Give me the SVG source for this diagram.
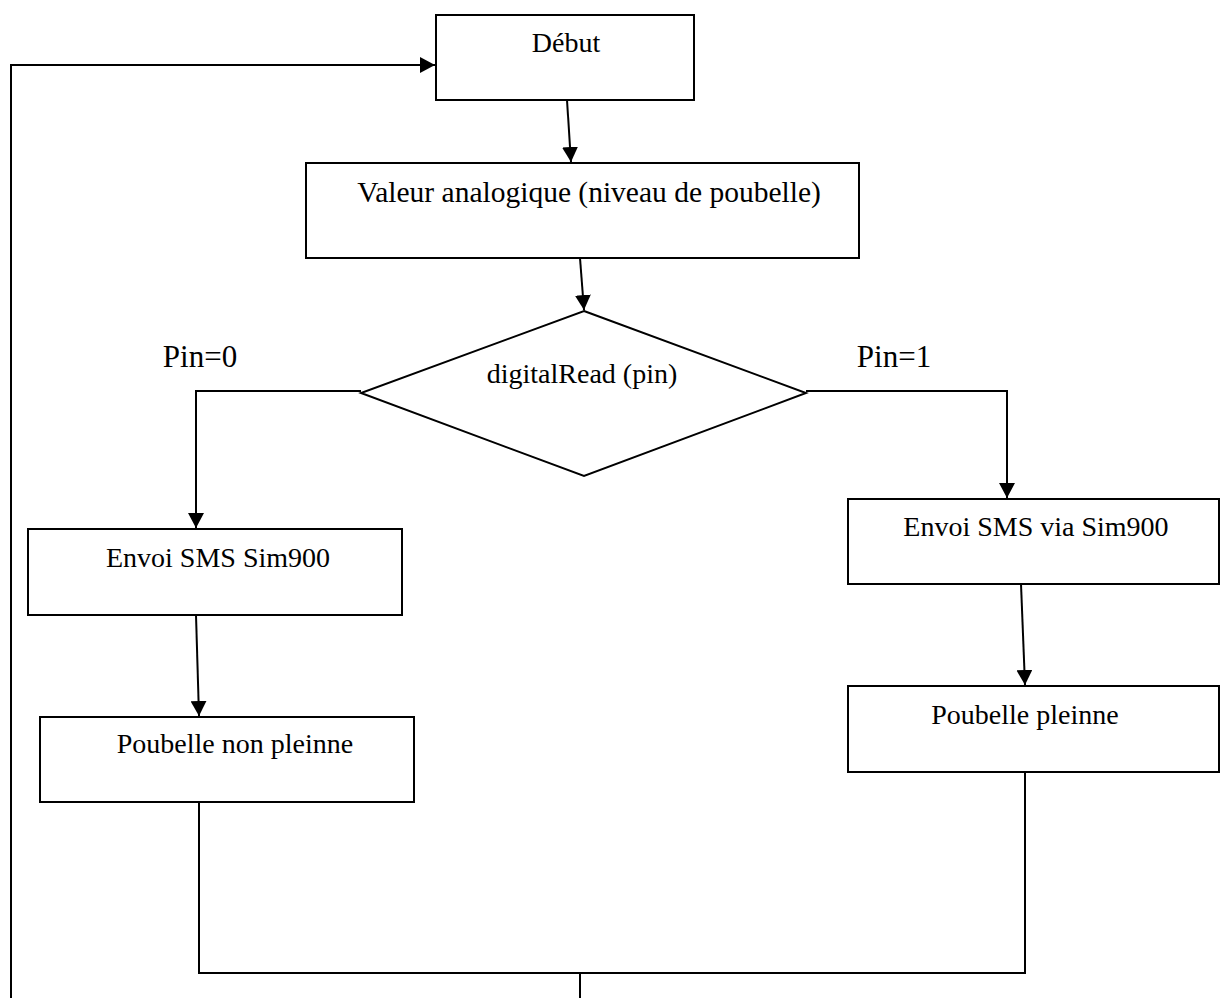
<svg xmlns="http://www.w3.org/2000/svg" width="1225" height="998" viewBox="0 0 1225 998">
<style>
.box{fill:#fff;stroke:#000;stroke-width:2}
.t{font-family:"Liberation Serif","Times New Roman",serif;font-size:28px;fill:#000;text-anchor:middle}
.lbl{font-size:31px}
.c{fill:none;stroke:#000;stroke-width:2}
</style>
<defs>
<marker id="ah" markerUnits="userSpaceOnUse" markerWidth="16" markerHeight="16" viewBox="0 0 16 16" refX="15" refY="8" orient="auto">
<path d="M0,0 L15,8 L0,16 Z" fill="#000"/>
</marker>
</defs>
<rect width="1225" height="998" fill="#fff"/>
<g id="connectors">
<path class="c" d="M11,998 L11,65 L435,65" marker-end="url(#ah)"/>
<path class="c" d="M567,100 L571,162" marker-end="url(#ah)"/>
<path class="c" d="M580,258 L584,310" marker-end="url(#ah)"/>
<path class="c" d="M361,391 L196,391 L196,528" marker-end="url(#ah)"/>
<path class="c" d="M806,391 L1007,391 L1007,498" marker-end="url(#ah)"/>
<path class="c" d="M196,615 L199,716" marker-end="url(#ah)"/>
<path class="c" d="M1021,584 L1025,685" marker-end="url(#ah)"/>
<path class="c" d="M199,802 L199,973 L1025,973 L1025,772"/>
<path class="c" d="M580,973 L580,998"/>
</g>
<g id="debut">
<rect class="box" x="436" y="15" width="258" height="85"/>
<text class="t" x="566" y="52">Début</text>
</g>
<g id="valeur">
<rect class="box" x="306" y="163" width="553" height="95"/>
<text class="t" x="589" y="202" style="font-size:29.5px">Valeur analogique (niveau de poubelle)</text>
</g>
<g id="decision">
<polygon class="box" points="584,311 806,393 584,476 361,393"/>
<text class="t" x="582" y="383">digitalRead (pin)</text>
</g>
<g id="label-pin0">
<text class="t lbl" x="200" y="367">Pin=0</text>
</g>
<g id="label-pin1">
<text class="t lbl" x="894" y="367">Pin=1</text>
</g>
<g id="envoi-left">
<rect class="box" x="28" y="529" width="374" height="86"/>
<text class="t" x="218" y="567">Envoi SMS Sim900</text>
</g>
<g id="envoi-right">
<rect class="box" x="848" y="499" width="371" height="85"/>
<text class="t" x="1036" y="536">Envoi SMS via Sim900</text>
</g>
<g id="non-pleine">
<rect class="box" x="40" y="717" width="374" height="85"/>
<text class="t" x="235" y="753">Poubelle non pleinne</text>
</g>
<g id="pleine">
<rect class="box" x="848" y="686" width="371" height="86"/>
<text class="t" x="1025" y="724">Poubelle pleinne</text>
</g>
</svg>
